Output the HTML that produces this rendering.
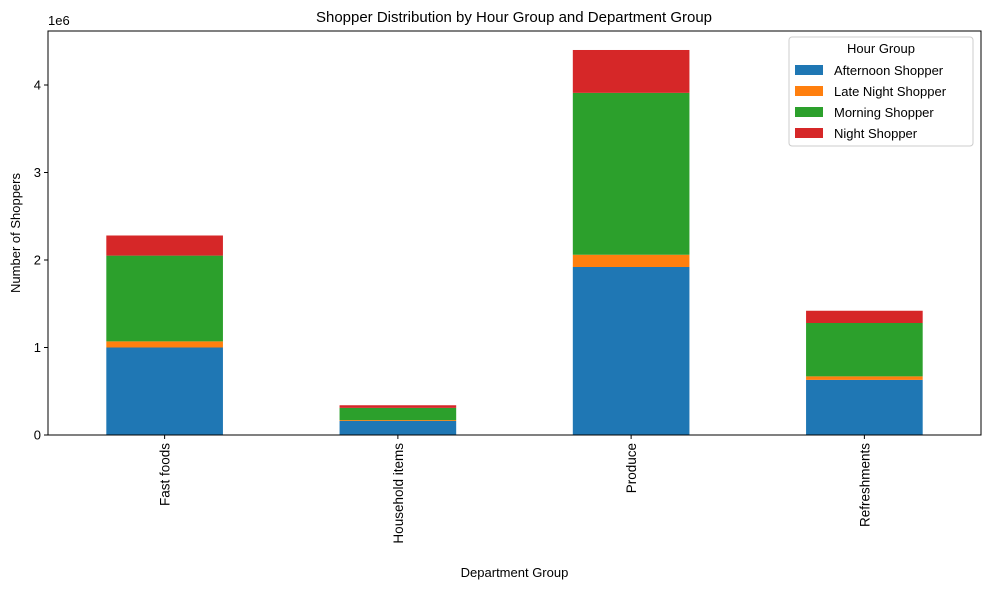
<!DOCTYPE html>
<html><head><meta charset="utf-8"><style>
body{margin:0;background:#fff;}
svg text{font-family:"Liberation Sans","DejaVu Sans",sans-serif;fill:#000;}
</style></head><body>
<svg id="chart" width="989" height="590" xmlns="http://www.w3.org/2000/svg">
<text x="514" y="22" font-size="15" text-anchor="middle">Shopper Distribution by Hour Group and Department Group</text>
<g id="bars"></g>
<g id="axes"></g>
</svg>
<script>
const categories=["Fast foods","Household items","Produce","Refreshments"];
const seriesNames=["Afternoon Shopper","Late Night Shopper","Morning Shopper","Night Shopper"];
const afternoon=[1.00,0.16,1.92,0.63];
const lateNight=[0.07,0.01,0.14,0.04];
const morning=[0.98,0.14,1.85,0.61];
const night=[0.23,0.03,0.49,0.14];
const yTicks=[0,1,2,3,4];
const colors=["#1f77b4","#ff7f0e","#2ca02c","#d62728"];
const series=[afternoon,lateNight,morning,night];
const L=48,R=981,T=31,B=435;
const yMax=4.617;
const step=(R-L)/categories.length;
function x(i){return L+step*(i+0.5);}
function y(v){return B-(v/yMax)*(B-T);}
const NS="http://www.w3.org/2000/svg";
const bars=document.getElementById('bars'),axes=document.getElementById('axes');
function mk(tag,attrs,parent){const e=document.createElementNS(NS,tag);for(const k in attrs)e.setAttribute(k,attrs[k]);parent.appendChild(e);return e;}
const bw=step*0.5;
categories.forEach((c,i)=>{let base=0;series.forEach((s,j)=>{const v=s[i];
const r=mk('rect',{x:x(i)-bw/2,y:y(base+v),width:bw,height:y(base)-y(base+v),fill:colors[j]},bars);


base+=v;});});
const frame=mk('rect',{x:L,y:T,width:R-L,height:B-T,fill:'none',stroke:'#000','stroke-width':1},axes);


yTicks.forEach(t=>{mk('line',{x1:L-4,x2:L,y1:y(t),y2:y(t),stroke:'#000'},axes);
const tx=mk('text',{x:L-7,y:y(t)+4.5,'font-size':13,'text-anchor':'end'},axes);tx.textContent=t;

});
const ex=mk('text',{x:L,y:25,'font-size':13},axes);ex.textContent='1e6';


categories.forEach((c,i)=>{mk('line',{x1:x(i),x2:x(i),y1:B,y2:B+4,stroke:'#000'},axes);
const tx=mk('text',{x:0,y:0,'font-size':13.5,'text-anchor':'end',transform:`translate(${x(i)+5},${B+8}) rotate(-90)`},axes);tx.textContent=c;

});
const xt=mk('text',{x:(L+R)/2,y:577,'font-size':13,'text-anchor':'middle'},axes);xt.textContent='Department Group';


const yt=mk('text',{x:0,y:0,'font-size':13,'text-anchor':'middle',transform:`translate(20,${(T+B)/2}) rotate(-90)`},axes);yt.textContent='Number of Shoppers';


const lg=mk('g',{},axes);


mk('rect',{x:789,y:37,width:184,height:109,rx:3,fill:'#fff',stroke:'#ccc'},lg);
const lt=mk('text',{x:881,y:53,'font-size':13,'text-anchor':'middle'},lg);lt.textContent='Hour Group';
seriesNames.forEach((n,j)=>{const yy=70+j*21;
mk('rect',{x:795,y:yy-5,width:28,height:10,fill:colors[j]},lg);
const t=mk('text',{x:834,y:yy+5,'font-size':13},lg);t.textContent=n;

});
</script>
</body></html>
